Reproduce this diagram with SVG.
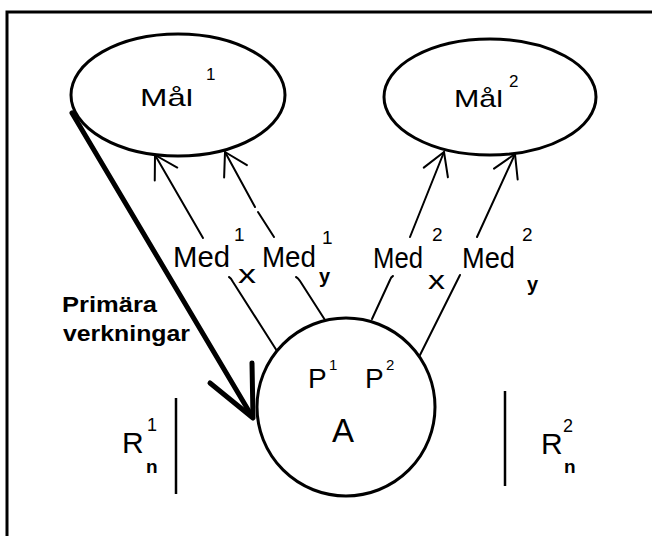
<svg xmlns="http://www.w3.org/2000/svg" width="652" height="536" viewBox="0 0 652 536">
<defs>
<style>
.bg{fill:#ffffff}
.frame{fill:none;stroke:#000;stroke-width:3}
.shape{fill:none;stroke:#000;stroke-width:3}
.ln{fill:none;stroke:#000;stroke-width:2;stroke-linecap:round;stroke-linejoin:round}
.thick{fill:none;stroke:#000;stroke-width:5;stroke-linecap:round;stroke-linejoin:round}
.bar{fill:none;stroke:#000;stroke-width:2.5}
text{font-family:"Liberation Sans",Arial,sans-serif;fill:#000}
.big{font-size:30px}
.sup{font-size:19px}
.bold{font-weight:bold}
</style>
<marker id="openV" markerUnits="userSpaceOnUse" markerWidth="30" markerHeight="30" viewBox="-26 -15 30 30" refX="0" refY="0" orient="auto">
<path d="M-22,-13 L0,0 L-22,13" fill="none" stroke="#000" stroke-width="2" stroke-linecap="round" stroke-linejoin="round"/>
</marker>
</defs>
<rect class="bg" x="0" y="0" width="652" height="536"/>
<g id="frame">
<path class="frame" d="M7,536 L7,12 L652,12"/>
</g>
<g id="node-mal1">
<ellipse class="shape" cx="178" cy="95" rx="107" ry="61"/>
<text x="140" y="106" font-size="24" textLength="53" lengthAdjust="spacingAndGlyphs">Mål</text>
<text x="206" y="80" font-size="17">1</text>
</g>
<g id="node-mal2">
<ellipse class="shape" cx="490" cy="97" rx="106" ry="58"/>
<text x="454" y="107" font-size="24" textLength="49" lengthAdjust="spacingAndGlyphs">Mål</text>
<text x="509" y="87" font-size="17">2</text>
</g>
<g id="node-A">
<circle class="shape" cx="346" cy="407" r="89"/>
<text x="308" y="388" font-size="28">P</text>
<text x="329" y="370" font-size="15">1</text>
<text x="365" y="388" font-size="28">P</text>
<text x="386" y="370" font-size="15">2</text>
<text x="332" y="442" font-size="33">A</text>
</g>
<g id="node-R1">
<text class="big" x="122" y="453">R</text>
<text x="147" y="431" font-size="18">1</text>
<text class="bold" x="146" y="473" font-size="19">n</text>
<path class="bar" d="M176,398 L176,494"/>
</g>
<g id="node-R2">
<text class="big" x="541" y="454">R</text>
<text x="563" y="432" font-size="18">2</text>
<text class="bold" x="564" y="473" font-size="19">n</text>
<path class="bar" d="M505,391 L505,486"/>
</g>
<g id="label-primara">
<text class="bold" x="62" y="312" font-size="22" textLength="95" lengthAdjust="spacingAndGlyphs">Primära</text>
<text class="bold" x="63" y="341" font-size="22" textLength="127" lengthAdjust="spacingAndGlyphs">verkningar</text>
</g>
<g id="med-labels">
<text class="big" x="173" y="267" textLength="57" lengthAdjust="spacingAndGlyphs">Med</text>
<text class="sup" x="234" y="241">1</text>
<text x="238" y="283" font-size="26" textLength="18" lengthAdjust="spacingAndGlyphs">x</text>
<text class="big" x="262" y="267" textLength="54" lengthAdjust="spacingAndGlyphs">Med</text>
<text class="sup" x="322" y="244">1</text>
<text class="bold" x="319" y="283" font-size="20">y</text>
<text class="big" x="373" y="268" textLength="50" lengthAdjust="spacingAndGlyphs">Med</text>
<text class="sup" x="432" y="241">2</text>
<text x="428" y="289" font-size="26" textLength="17" lengthAdjust="spacingAndGlyphs">x</text>
<text class="big" x="462" y="268" textLength="53" lengthAdjust="spacingAndGlyphs">Med</text>
<text class="sup" x="522" y="241">2</text>
<text class="bold" x="527" y="291" font-size="20">y</text>
</g>
<g id="connectors">
<path class="ln" d="M203,238 L155,155" marker-end="url(#openV)"/>
<path class="ln" d="M274,237 L258,212 M255,207 L225,152" marker-end="url(#openV)"/>
<path class="ln" d="M410,237 L444,152" marker-end="url(#openV)"/>
<path class="ln" d="M477,237 L515,154" marker-end="url(#openV)"/>
<path class="ln" d="M277,351 L233,282 Q231,278 229,277"/>
<path class="ln" d="M325,320 L300,281 Q298,278 296,277"/>
<path class="ln" d="M372,319 L390,280 Q391,277 393,276"/>
<path class="ln" d="M420,355 L460,275"/>
<path class="thick" d="M72,113 L250,413"/>
<path class="thick" d="M210,383 L253,418 L252,363"/>
</g>
</svg>
